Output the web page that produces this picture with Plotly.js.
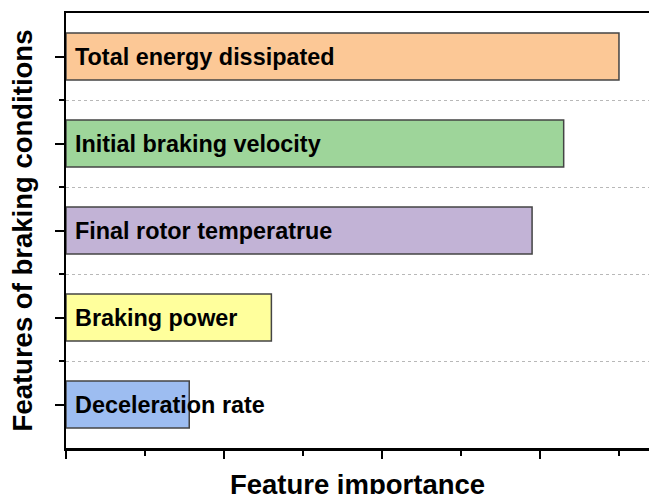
<!DOCTYPE html>
<html>
<head>
<meta charset="utf-8">
<script src="https://cdn.plot.ly/plotly-3.0.1.min.js"></script>
<style>html,body{margin:0;padding:0;background:#fff;overflow:hidden;}#chart{width:649px;height:500px;}</style>
</head>
<body>
<div id="chart"></div>
<script>
const features = [
  "Total energy dissipated",
  "Initial braking velocity",
  "Final rotor temperatrue",
  "Braking power",
  "Deceleration rate"
];
const importance = [0.350, 0.315, 0.295, 0.130, 0.078];
const barColors = ["#FCC896", "#9ED59A", "#C2B3D6", "#FFFF9C", "#9DBDF1"];

const pos = features.map((_, i) => i);
const FONT = "Liberation Sans, Arial, Helvetica, sans-serif";

const trace = {
  type: "bar",
  orientation: "h",
  x: importance,
  y: pos,
  width: 0.54,
  marker: { color: barColors, line: { color: "#444444", width: 1.5 } },
  hoverinfo: "skip"
};

const annotations = features.map((f, i) => ({
  x: 0, y: i, xref: "x", yref: "y",
  text: f, showarrow: false,
  xanchor: "left", yanchor: "middle", xshift: 7,
  font: { family: FONT, size: 23.4, color: "#000", weight: "bold" }
}));

const layout = {
  width: 649, height: 500,
  margin: { l: 66, r: 0, t: 13, b: 52 },
  paper_bgcolor: "#fff", plot_bgcolor: "#fff",
  showlegend: false,
  font: { family: FONT, color: "#000" },
  xaxis: {
    range: [0, 0.369],
    showgrid: false, zeroline: false,
    showline: true, linecolor: "#000", linewidth: 2.5, mirror: true,
    ticks: "outside", tickmode: "linear", tick0: 0, dtick: 0.1,
    ticklen: 8, tickwidth: 2, tickcolor: "#000",
    minor: { tickmode: "linear", tick0: 0, dtick: 0.05, ticks: "outside", ticklen: 5, tickwidth: 2, tickcolor: "#000", showgrid: false },
    showticklabels: false,
    title: { text: "Feature importance", font: { family: FONT, size: 27.5, weight: "bold", color: "#000" }, standoff: 21 }
  },
  yaxis: {
    range: [4.5, -0.5],
    showgrid: false, zeroline: false,
    showline: true, linecolor: "#000", linewidth: 2.5,
    ticks: "outside", tickmode: "array", tickvals: pos,
    ticklen: 9, tickwidth: 2, tickcolor: "#000",
    minor: { tickmode: "array", tickvals: [0.5, 1.5, 2.5, 3.5], ticks: "outside", ticklen: 5, tickwidth: 2, tickcolor: "#000",
             showgrid: true, gridcolor: "#b8b8b8", gridwidth: 1, griddash: "dot" },
    showticklabels: false,
    title: { text: "Features of braking conditions", font: { family: FONT, size: 27.5, weight: "bold", color: "#000" }, standoff: 14 }
  },
  annotations: annotations
};

Plotly.newPlot("chart", [trace], layout, { staticPlot: true, displayModeBar: false });
</script>
</body>
</html>
